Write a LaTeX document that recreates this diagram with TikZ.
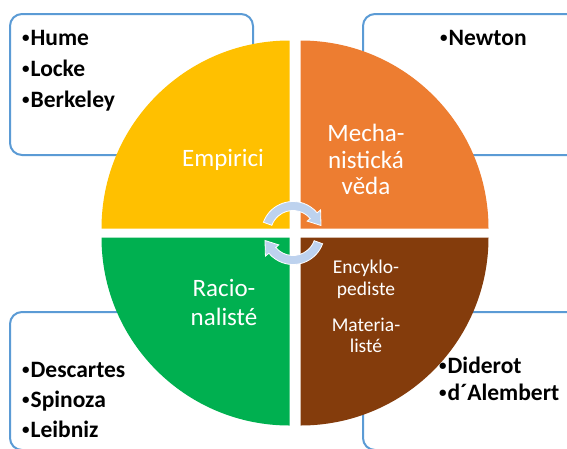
\documentclass[tikz,border=0pt]{standalone}
\usepackage{fontspec}
\setmainfont{Carlito}
\definecolor{qyellow}{HTML}{FFC000}
\definecolor{qorange}{HTML}{ED7D31}
\definecolor{qgreen}{HTML}{00B050}
\definecolor{qbrown}{HTML}{843C0C}
\definecolor{boxblue}{HTML}{5B9BD5}
\definecolor{arrowblue}{HTML}{BDD2EE}
\newcommand{\mybul}{{\fontsize{15}{15}\selectfont\raisebox{2.2pt}{•}}\kern1pt}
\begin{document}
\begin{tikzpicture}[x=1pt,y=-1pt,
  box/.style={draw=boxblue, line width=2pt, rounded corners=12pt},
  item/.style={anchor=base west, inner sep=0pt, font=\fontsize{23.5}{27}\selectfont\bfseries},
  qlabel/.style={anchor=base, inner sep=0pt, text=white, font=\fontsize{25}{29}\selectfont},
  slabel/.style={anchor=base, inner sep=0pt, text=white, font=\fontsize{19.5}{23}\selectfont},
  cyc/.style={fill=arrowblue, draw=white, line width=0.8pt}]
\path[use as bounding box] (0,0) rectangle (567,448);
\clip (0,0) rectangle (567,448);
% boxes
\draw[box] (10,14) rectangle (253,155);
\draw[box] (363,14) rectangle (600,155);
\draw[box] (260,312) -- (10,312) -- (10,450) -- (260,450);
\draw[box] (363,312) rectangle (600,450);
% quadrants
\begin{scope}[shift={(295,233)}, y=1pt]
  \fill[qyellow] (-5.5,4.5) -- ++(-188,0) arc[start angle=180,end angle=90,radius=188] -- cycle;
  \fill[qorange] (5.5,4.5) -- ++(0,188) arc[start angle=90,end angle=0,radius=188] -- cycle;
  \fill[qgreen] (-5.5,-4.5) -- ++(0,-188) arc[start angle=270,end angle=180,radius=188] -- cycle;
  \fill[qbrown] (5.5,-4.5) -- ++(188,0) arc[start angle=0,end angle=-90,radius=188] -- cycle;
\end{scope}
% cycle arrows
\begin{scope}[shift={(293,233)}, y=1pt]
  \draw[cyc] (160:31.5) arc[start angle=160,end angle=40,radius=31.5] -- (40:36) -- (15:29) -- (40:18.5) -- (40:22.5) arc[start angle=40,end angle=160,radius=22.5] -- cycle;
  \draw[cyc] (340:31.5) arc[start angle=340,end angle=220,radius=31.5] -- (220:36) -- (195:29) -- (220:18.5) -- (220:22.5) arc[start angle=220,end angle=340,radius=22.5] -- cycle;
\end{scope}
% quadrant labels
\node[qlabel] (emp) at (223,166.7) {Empirici};
\node[qlabel] (mech1) at (366,141.7) {Mecha-};
\node[qlabel] (mech2) at (366,168) {nistická};
\node[qlabel] (mech3) at (366,194) {věda};
\node[qlabel] (rac1) at (224,296.7) {Racio-};
\node[qlabel] (rac2) at (224,325) {nalisté};
\node[slabel] (enc1) at (366,273) {Encyklo-};
\node[slabel] (enc2) at (366,295) {pediste};
\node[slabel] (mat1) at (366,331) {Materia-};
\node[slabel] (mat2) at (366,352) {listé};
% list items
\node[item] (hume) at (22,45) {\mybul Hume};
\node[item] (locke) at (22,76) {\mybul Locke};
\node[item] (berkeley) at (22,107) {\mybul Berkeley};
\node[item] (newton) at (440,45) {\mybul Newton};
\node[item] (descartes) at (22,377) {\mybul Descartes};
\node[item] (spinoza) at (22,407) {\mybul Spinoza};
\node[item] (leibniz) at (22,437) {\mybul Leibniz};
\node[item] (diderot) at (439,373) {\mybul Diderot};
\node[item] (alembert) at (439,400) {\mybul d´Alembert};
\end{tikzpicture}
\end{document}
